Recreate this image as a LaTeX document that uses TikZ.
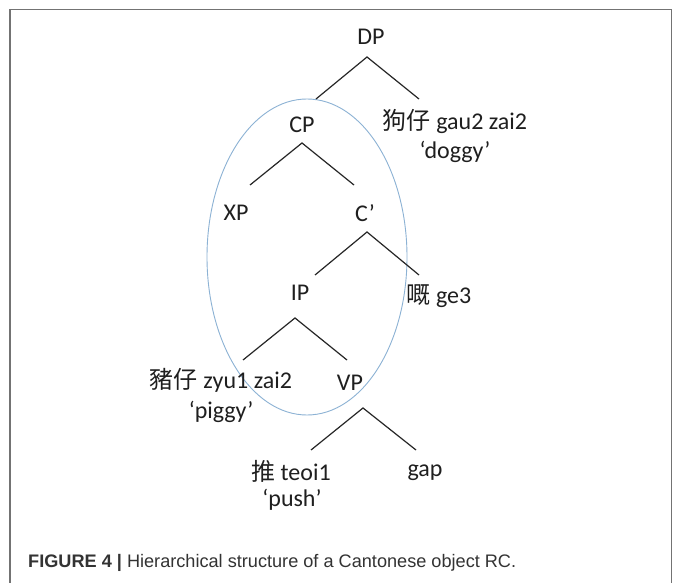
\documentclass[tikz,border=0pt]{standalone}
\usepackage{fontspec}
\setmainfont{Carlito}
\newfontfamily\cjk{Noto Sans CJK TC}
\newfontfamily\capfont{Liberation Sans}
\begin{document}
\begin{tikzpicture}[x=1pt,y=-1pt,
  lab/.style={inner sep=0pt, text=black!88, font=\fontsize{24}{28}\selectfont},
  br/.style={line width=1.2pt, black!85},
  frame/.style={line width=1.2pt, black!55}]
\useasboundingbox (0,0) rectangle (673,583);
\fill[white] (0,0) rectangle (673,583);
\draw[frame] (10,583) -- (10,9.5) -- (671.5,9.5) -- (671.5,583);
% ellipse
\draw[line width=0.9pt, color={rgb,255:red,140;green,178;blue,212}] (307,257) ellipse [x radius=100, y radius=158];
% nodes
\node[lab] (DP) at (371,37) {DP};
\node[lab] (CP) at (302,125) {CP};
\node[lab] (dog) at (455,121) {{\cjk 狗仔} gau2 zai2};
\node[lab] (dogg) at (455,152) {‘doggy’};
\node[lab] (XP) at (236,213) {XP};
\node[lab] (Cbar) at (365,213) {C’};
\node[lab] (IP) at (300,293) {IP};
\node[lab] (ge) at (439,296) {{\cjk 嘅} ge3};
\node[lab] (pig) at (221,380) {{\cjk 豬仔} zyu1 zai2};
\node[lab] (pigg) at (221,412) {‘piggy’};
\node[lab] (VP) at (350,383) {VP};
\node[lab] (push) at (291,471) {{\cjk 推} teoi1};
\node[lab] (pushg) at (292,500) {‘push’};
\node[lab] (gap) at (425,473) {gap};
% branch points
\coordinate (DPa) at (367,57);  \coordinate (DPl) at (316,99);  \coordinate (DPr) at (419,99);
\coordinate (CPa) at (302,143); \coordinate (CPl) at (250,185); \coordinate (CPr) at (354,185);
\coordinate (Ca) at (367,232);  \coordinate (Cl) at (315,275);  \coordinate (Cr) at (419,275);
\coordinate (IPa) at (295,318); \coordinate (IPl) at (243,360); \coordinate (IPr) at (347,360);
\coordinate (VPa) at (363,408); \coordinate (VPl) at (311,450); \coordinate (VPr) at (416,450);
\draw[br] (DPl) -- (DPa) -- (DPr);
\draw[br] (CPl) -- (CPa) -- (CPr);
\draw[br] (Cl) -- (Ca) -- (Cr);
\draw[br] (IPl) -- (IPa) -- (IPr);
\draw[br] (VPl) -- (VPa) -- (VPr);
% caption
\node[anchor=west, inner sep=0pt, text=black!80] (cap) at (28,563) {\resizebox{488pt}{!}{\capfont\fontsize{17}{20}\selectfont\textbf{FIGURE 4 |} Hierarchical structure of a Cantonese object RC.}};
\end{tikzpicture}
\end{document}
